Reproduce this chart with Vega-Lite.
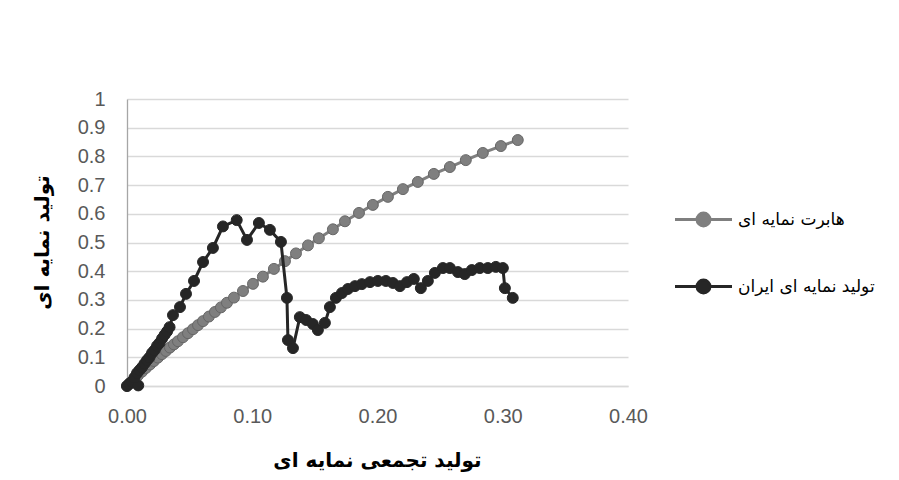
{
  "$schema": "https://vega.github.io/schema/vega-lite/v6.json",
  "width": 501,
  "height": 287,
  "autosize": "none",
  "padding": {"left": 127, "top": 99, "right": 271, "bottom": 94},
  "background": "white",
  "config": {
    "view": {"stroke": null},
    "axis": {"labelFont": "Liberation Sans", "labelFontSize": 20, "labelColor": "#595959", "ticks": false, "labelFlush": false, "labelOverlap": false, "titleFont": "DejaVu Sans", "titleFontWeight": "bold", "titleFontSize": 20, "titleColor": "#000000"}
  },
  "datasets": {
    "pts": [
      {"s": "هابرت نمایه ای", "i": 0, "x": 0, "y": 0},
      {"s": "هابرت نمایه ای", "i": 1, "x": 0.0024, "y": 0.011},
      {"s": "هابرت نمایه ای", "i": 2, "x": 0.0056, "y": 0.024},
      {"s": "هابرت نمایه ای", "i": 3, "x": 0.0088, "y": 0.037},
      {"s": "هابرت نمایه ای", "i": 4, "x": 0.012, "y": 0.05},
      {"s": "هابرت نمایه ای", "i": 5, "x": 0.0152, "y": 0.063},
      {"s": "هابرت نمایه ای", "i": 6, "x": 0.0184, "y": 0.075},
      {"s": "هابرت نمایه ای", "i": 7, "x": 0.0215, "y": 0.087},
      {"s": "هابرت نمایه ای", "i": 8, "x": 0.0247, "y": 0.099},
      {"s": "هابرت نمایه ای", "i": 9, "x": 0.0279, "y": 0.111},
      {"s": "هابرت نمایه ای", "i": 10, "x": 0.0311, "y": 0.122},
      {"s": "هابرت نمایه ای", "i": 11, "x": 0.0343, "y": 0.134},
      {"s": "هابرت نمایه ای", "i": 12, "x": 0.0375, "y": 0.145},
      {"s": "هابرت نمایه ای", "i": 13, "x": 0.0407, "y": 0.156},
      {"s": "هابرت نمایه ای", "i": 14, "x": 0.0447, "y": 0.17},
      {"s": "هابرت نمایه ای", "i": 15, "x": 0.0487, "y": 0.184},
      {"s": "هابرت نمایه ای", "i": 16, "x": 0.0527, "y": 0.198},
      {"s": "هابرت نمایه ای", "i": 17, "x": 0.0567, "y": 0.212},
      {"s": "هابرت نمایه ای", "i": 18, "x": 0.0607, "y": 0.226},
      {"s": "هابرت نمایه ای", "i": 19, "x": 0.0654, "y": 0.242},
      {"s": "هابرت نمایه ای", "i": 20, "x": 0.0702, "y": 0.258},
      {"s": "هابرت نمایه ای", "i": 21, "x": 0.075, "y": 0.274},
      {"s": "هابرت نمایه ای", "i": 22, "x": 0.0798, "y": 0.29},
      {"s": "هابرت نمایه ای", "i": 23, "x": 0.0854, "y": 0.308},
      {"s": "هابرت نمایه ای", "i": 24, "x": 0.0926, "y": 0.331},
      {"s": "هابرت نمایه ای", "i": 25, "x": 0.1006, "y": 0.356},
      {"s": "هابرت نمایه ای", "i": 26, "x": 0.1085, "y": 0.381},
      {"s": "هابرت نمایه ای", "i": 27, "x": 0.1173, "y": 0.408},
      {"s": "هابرت نمایه ای", "i": 28, "x": 0.1261, "y": 0.435},
      {"s": "هابرت نمایه ای", "i": 29, "x": 0.1349, "y": 0.462},
      {"s": "هابرت نمایه ای", "i": 30, "x": 0.1445, "y": 0.49},
      {"s": "هابرت نمایه ای", "i": 31, "x": 0.1532, "y": 0.515},
      {"s": "هابرت نمایه ای", "i": 32, "x": 0.1644, "y": 0.546},
      {"s": "هابرت نمایه ای", "i": 33, "x": 0.174, "y": 0.574},
      {"s": "هابرت نمایه ای", "i": 34, "x": 0.1852, "y": 0.603},
      {"s": "هابرت نمایه ای", "i": 35, "x": 0.1963, "y": 0.631},
      {"s": "هابرت نمایه ای", "i": 36, "x": 0.2083, "y": 0.659},
      {"s": "هابرت نمایه ای", "i": 37, "x": 0.2203, "y": 0.686},
      {"s": "هابرت نمایه ای", "i": 38, "x": 0.2322, "y": 0.711},
      {"s": "هابرت نمایه ای", "i": 39, "x": 0.245, "y": 0.739},
      {"s": "هابرت نمایه ای", "i": 40, "x": 0.2578, "y": 0.763},
      {"s": "هابرت نمایه ای", "i": 41, "x": 0.2705, "y": 0.787},
      {"s": "هابرت نمایه ای", "i": 42, "x": 0.2841, "y": 0.812},
      {"s": "هابرت نمایه ای", "i": 43, "x": 0.2985, "y": 0.836},
      {"s": "هابرت نمایه ای", "i": 44, "x": 0.312, "y": 0.857},
      {"s": "تولید نمایه ای ایران", "i": 0, "x": 0, "y": 0},
      {"s": "تولید نمایه ای ایران", "i": 1, "x": 0.002, "y": 0.008},
      {"s": "تولید نمایه ای ایران", "i": 2, "x": 0.004, "y": 0.015},
      {"s": "تولید نمایه ای ایران", "i": 3, "x": 0.009, "y": 0.002},
      {"s": "تولید نمایه ای ایران", "i": 4, "x": 0.006, "y": 0.03},
      {"s": "تولید نمایه ای ایران", "i": 5, "x": 0.008, "y": 0.045},
      {"s": "تولید نمایه ای ایران", "i": 6, "x": 0.01, "y": 0.055},
      {"s": "تولید نمایه ای ایران", "i": 7, "x": 0.012, "y": 0.065},
      {"s": "تولید نمایه ای ایران", "i": 8, "x": 0.014, "y": 0.078},
      {"s": "تولید نمایه ای ایران", "i": 9, "x": 0.016, "y": 0.09},
      {"s": "تولید نمایه ای ایران", "i": 10, "x": 0.018, "y": 0.1},
      {"s": "تولید نمایه ای ایران", "i": 11, "x": 0.02, "y": 0.115},
      {"s": "تولید نمایه ای ایران", "i": 12, "x": 0.022, "y": 0.125},
      {"s": "تولید نمایه ای ایران", "i": 13, "x": 0.024, "y": 0.14},
      {"s": "تولید نمایه ای ایران", "i": 14, "x": 0.026, "y": 0.15},
      {"s": "تولید نمایه ای ایران", "i": 15, "x": 0.028, "y": 0.165},
      {"s": "تولید نمایه ای ایران", "i": 16, "x": 0.03, "y": 0.178},
      {"s": "تولید نمایه ای ایران", "i": 17, "x": 0.032, "y": 0.19},
      {"s": "تولید نمایه ای ایران", "i": 18, "x": 0.034, "y": 0.205},
      {"s": "تولید نمایه ای ایران", "i": 19, "x": 0.0367, "y": 0.247},
      {"s": "تولید نمایه ای ایران", "i": 20, "x": 0.0423, "y": 0.275},
      {"s": "تولید نمایه ای ایران", "i": 21, "x": 0.0471, "y": 0.321},
      {"s": "تولید نمایه ای ایران", "i": 22, "x": 0.0535, "y": 0.366},
      {"s": "تولید نمایه ای ایران", "i": 23, "x": 0.0607, "y": 0.432},
      {"s": "تولید نمایه ای ایران", "i": 24, "x": 0.0686, "y": 0.481},
      {"s": "تولید نمایه ای ایران", "i": 25, "x": 0.0766, "y": 0.556},
      {"s": "تولید نمایه ای ایران", "i": 26, "x": 0.0876, "y": 0.578},
      {"s": "تولید نمایه ای ایران", "i": 27, "x": 0.0958, "y": 0.509},
      {"s": "تولید نمایه ای ایران", "i": 28, "x": 0.1053, "y": 0.568},
      {"s": "تولید نمایه ای ایران", "i": 29, "x": 0.1141, "y": 0.544},
      {"s": "تولید نمایه ای ایران", "i": 30, "x": 0.1229, "y": 0.502},
      {"s": "تولید نمایه ای ایران", "i": 31, "x": 0.1277, "y": 0.307},
      {"s": "تولید نمایه ای ایران", "i": 32, "x": 0.1285, "y": 0.16},
      {"s": "تولید نمایه ای ایران", "i": 33, "x": 0.1325, "y": 0.132},
      {"s": "تولید نمایه ای ایران", "i": 34, "x": 0.138, "y": 0.24},
      {"s": "تولید نمایه ای ایران", "i": 35, "x": 0.143, "y": 0.23},
      {"s": "تولید نمایه ای ایران", "i": 36, "x": 0.1484, "y": 0.216},
      {"s": "تولید نمایه ای ایران", "i": 37, "x": 0.1524, "y": 0.195},
      {"s": "تولید نمایه ای ایران", "i": 38, "x": 0.158, "y": 0.22},
      {"s": "تولید نمایه ای ایران", "i": 39, "x": 0.162, "y": 0.275},
      {"s": "تولید نمایه ای ایران", "i": 40, "x": 0.1668, "y": 0.307},
      {"s": "تولید نمایه ای ایران", "i": 41, "x": 0.1716, "y": 0.324},
      {"s": "تولید نمایه ای ایران", "i": 42, "x": 0.1764, "y": 0.338},
      {"s": "تولید نمایه ای ایران", "i": 43, "x": 0.182, "y": 0.348},
      {"s": "تولید نمایه ای ایران", "i": 44, "x": 0.1875, "y": 0.355},
      {"s": "تولید نمایه ای ایران", "i": 45, "x": 0.194, "y": 0.362},
      {"s": "تولید نمایه ای ایران", "i": 46, "x": 0.2003, "y": 0.366},
      {"s": "تولید نمایه ای ایران", "i": 47, "x": 0.2067, "y": 0.366},
      {"s": "تولید نمایه ای ایران", "i": 48, "x": 0.2123, "y": 0.359},
      {"s": "تولید نمایه ای ایران", "i": 49, "x": 0.2179, "y": 0.348},
      {"s": "تولید نمایه ای ایران", "i": 50, "x": 0.2235, "y": 0.362},
      {"s": "تولید نمایه ای ایران", "i": 51, "x": 0.229, "y": 0.373},
      {"s": "تولید نمایه ای ایران", "i": 52, "x": 0.2346, "y": 0.341},
      {"s": "تولید نمایه ای ایران", "i": 53, "x": 0.2402, "y": 0.366},
      {"s": "تولید نمایه ای ایران", "i": 54, "x": 0.2458, "y": 0.394},
      {"s": "تولید نمایه ای ایران", "i": 55, "x": 0.2522, "y": 0.411},
      {"s": "تولید نمایه ای ایران", "i": 56, "x": 0.2578, "y": 0.411},
      {"s": "تولید نمایه ای ایران", "i": 57, "x": 0.2642, "y": 0.397},
      {"s": "تولید نمایه ای ایران", "i": 58, "x": 0.2697, "y": 0.39},
      {"s": "تولید نمایه ای ایران", "i": 59, "x": 0.2753, "y": 0.404},
      {"s": "تولید نمایه ای ایران", "i": 60, "x": 0.2817, "y": 0.411},
      {"s": "تولید نمایه ای ایران", "i": 61, "x": 0.2881, "y": 0.411},
      {"s": "تولید نمایه ای ایران", "i": 62, "x": 0.2945, "y": 0.415},
      {"s": "تولید نمایه ای ایران", "i": 63, "x": 0.3001, "y": 0.411},
      {"s": "تولید نمایه ای ایران", "i": 64, "x": 0.3017, "y": 0.341},
      {"s": "تولید نمایه ای ایران", "i": 65, "x": 0.308, "y": 0.307}
    ]
  },
  "data": {"name": "pts"},
  "encoding": {
    "x": {"field": "x", "type": "quantitative", "title": "تولید تجمعی نمایه ای",
      "scale": {"domain": [0, 0.4], "nice": false},
      "axis": {"values": [0, 0.1, 0.2, 0.3, 0.4], "format": ".2f", "grid": false, "domain": true, "domainColor": "#d9d9d9", "domainWidth": 1.3, "labelPadding": 20, "titleX": 250, "titleY": 80, "titleBaseline": "alphabetic"}},
    "y": {"field": "y", "type": "quantitative", "title": "تولید نمایه ای",
      "scale": {"domain": [0, 1], "nice": false},
      "axis": {"values": [0, 0.1, 0.2, 0.3, 0.4, 0.5, 0.6, 0.7, 0.8, 0.9, 1], "format": "~g", "grid": true, "gridColor": "#d9d9d9", "gridWidth": 1.3, "domain": true, "domainColor": "#a6a6a6", "domainWidth": 1.3, "labelPadding": 22, "titleX": -85, "titleY": 143, "titleAngle": -90, "titleBaseline": "middle"}},
    "order": {"field": "i", "type": "quantitative"},
    "color": {"field": "s", "type": "nominal",
      "scale": {"domain": ["هابرت نمایه ای", "تولید نمایه ای ایران"], "range": ["#7f7f7f", "#262626"]},
      "legend": {"title": null, "orient": "none", "legendX": 560, "legendY": 104, "direction": "vertical",
        "symbolType": "M-1.9,0L1.9,0M-0.43,0A0.43,0.43,0,1,0,0.43,0A0.43,0.43,0,1,0,-0.43,0",
        "symbolSize": 900, "symbolStrokeWidth": 3, "labelFont": "DejaVu Sans", "labelFontSize": 17, "labelColor": "#000000", "labelOffset": 18, "rowPadding": 38,
        "encode": {"symbols": {"update": {"fill": {"scale": "color", "field": "value"}, "stroke": {"scale": "color", "field": "value"}, "opacity": {"value": 1}}}}}
    }
  },
  "layer": [
    {"transform": [{"filter": "datum.s == 'هابرت نمایه ای'"}], "mark": {"type": "line", "strokeWidth": 3}},
    {"transform": [{"filter": "datum.s == 'هابرت نمایه ای'"}], "mark": {"type": "point", "filled": true, "size": 120, "opacity": 1, "stroke": "#666666", "strokeWidth": 1}},
    {"transform": [{"filter": "datum.s == 'تولید نمایه ای ایران'"}], "mark": {"type": "line", "strokeWidth": 3}},
    {"transform": [{"filter": "datum.s == 'تولید نمایه ای ایران'"}], "mark": {"type": "point", "filled": true, "size": 120, "opacity": 1, "stroke": "#262626", "strokeWidth": 1}}
  ]
}
